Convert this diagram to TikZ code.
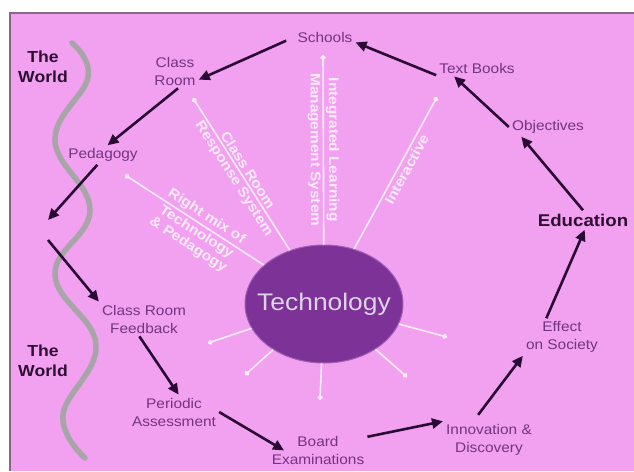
\documentclass[tikz,border=0pt]{standalone}
\usepackage{fontspec}
\setmainfont{Liberation Sans}[FakeStretch=1.1]
\usetikzlibrary{arrows.meta,shapes.geometric}
\definecolor{bgpink}{RGB}{242,160,240}
\definecolor{framegray}{RGB}{135,105,135}
\definecolor{wavegray}{RGB}{168,165,168}
\definecolor{lblpurple}{RGB}{115,52,130}
\definecolor{arrowdark}{RGB}{40,10,50}
\definecolor{worlddark}{RGB}{45,15,50}
\definecolor{techpurple}{RGB}{124,50,150}
\definecolor{techedge}{RGB}{160,95,180}
\definecolor{techtext}{RGB}{222,212,234}
\definecolor{spokewhite}{RGB}{252,236,250}

\begin{document}
\begin{tikzpicture}[x=1pt,y=-1pt,
  lbl/.style={text=lblpurple,font=\fontsize{14}{18}\selectfont,align=center,inner sep=3pt},
  world/.style={text=worlddark,font=\bfseries\fontsize{16}{20}\selectfont,align=center},
  flow/.style={draw=arrowdark,line width=2.6pt,-{Triangle[length=11pt,width=10pt]}},
  spoke/.style={draw=spokewhite,line width=1.6pt,-{Circle[length=5pt]}},
  spoketxt/.style={text=spokewhite,font=\bfseries\fontsize{14}{15}\selectfont,sloped,inner sep=2pt}]

\useasboundingbox (0,0) rectangle (634,471);
\fill[white] (0,0) rectangle (634,471);
\fill[bgpink] (10,13) rectangle (634,471);
\draw[framegray,line width=2pt] (10,471) -- (10,13) -- (634,13);

\draw[wavegray,line width=5.5pt,line cap=round] plot[smooth,tension=0.7] coordinates
  {(72,43) (88,77) (55,140) (90,210) (55,275) (96,345) (63,415) (85,458)};

\node[world] (worldtop) at (43,67) {The\\World};
\node[world] (worldbottom) at (43,361) {The\\World};

\node[ellipse,fill=techpurple,draw=techedge,line width=1pt,inner sep=0pt,
  minimum width=158pt,minimum height=118pt,text=techtext,
  font=\fontsize{24}{28}\selectfont] (tech) at (324,304) {\makebox[0pt]{Technology}};

\coordinate (rmix) at (125,175);
\coordinate (crrs) at (193,98);
\coordinate (ilms) at (323,55);
\coordinate (inter) at (437,97);
\coordinate (s1) at (208,343);
\coordinate (s2) at (245,375);
\coordinate (s3) at (320,400);
\coordinate (s4) at (407,377);
\coordinate (s5) at (447,337);

\draw[spoke] (tech) -- (rmix)
  node[spoketxt,pos=0.45,above] {Right mix of}
  node[spoketxt,pos=0.45,below,align=center] {Technology\\\& Pedagogy};
\draw[spoke] (tech) -- (crrs)
  node[spoketxt,pos=0.5,above] {Class Room}
  node[spoketxt,pos=0.5,below] {Response System};
\draw[spoke] (tech) -- (ilms)
  node[spoketxt,pos=0.5,above] {Integrated Learning}
  node[spoketxt,pos=0.5,below] {Management System};
\draw[spoke] (tech) -- (inter)
  node[spoketxt,pos=0.55,below] {Interactive};
\foreach \s in {s1,s2,s3,s4,s5}
  \draw[spoke] (tech) -- (\s);

\node[lbl] (schools) at (325,37) {Schools};
\node[lbl] (classroom) at (175,71) {Class\\Room};
\node[lbl] (pedagogy) at (103,155) {Pedagogy};
\coordinate (worldin) at (48,220);
\coordinate (worldout) at (48,240);
\node[lbl] (feedback) at (144,319) {Class Room\\Feedback};
\node[lbl] (periodic) at (174,412) {Periodic\\Assessment};
\node[lbl] (board) at (318,450) {Board\\Examinations};
\node[lbl] (innovation) at (489,440) {Innovation \&\\Discovery};
\node[lbl] (effect) at (562,337) {Effect\\on Society};
\node[world,font=\bfseries\fontsize{17}{20}\selectfont] (education) at (583,220) {Education};
\node[lbl] (objectives) at (548,127) {Objectives};
\node[lbl] (textbooks) at (477,68) {Text Books};

\draw[flow,shorten <=9pt] (schools.west) -- (classroom.-20);
\draw[flow] (classroom.-80) -- (pedagogy.65);
\draw[flow] (pedagogy.-120) -- (worldin);
\draw[flow] (worldout) -- (feedback.north west);
\draw[flow] (feedback.-105) -- (periodic.75);
\draw[flow,shorten >=-18pt] (periodic.east) -- (board.170);
\draw[flow] (board.15) -- (innovation.north west);
\draw[flow,shorten <=8pt] (innovation.130) -- (effect.south west);
\draw[flow] (effect.130) -- (education.-80);
\draw[flow] (education.north) -- (objectives.-160);
\draw[flow] (objectives.west) -- (textbooks.-160);
\draw[flow] (textbooks.-170) -- (schools.-10);

\end{tikzpicture}
\end{document}
